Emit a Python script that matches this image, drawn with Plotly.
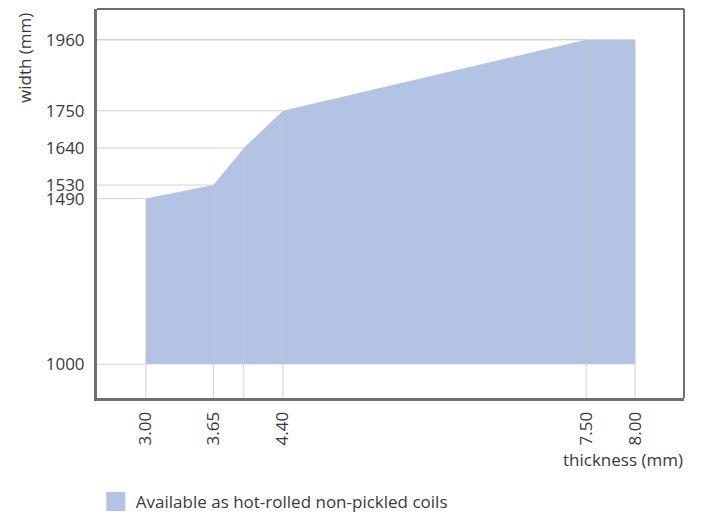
import plotly.graph_objects as go

# Data
thickness = [3.00, 3.69, 4.00, 4.40, 7.50, 8.00]   # x positions of boundary points
width_max = [1490, 1530, 1640, 1750, 1960, 1960]   # upper width boundary
width_min = 1000                                   # lower width boundary
x_tick_vals = [3.00, 3.69, 4.40, 7.50, 8.00]
x_tick_text = ["3.00", "3.65", "4.40", "7.50", "8.00"]
y_tick_vals = [1000, 1490, 1530, 1640, 1750, 1960]
legend_label = "Available as hot-rolled non-pickled coils"

FILL = "#b3c3e3"
AXIS = "#6f6f6f"
GRID = "rgba(200,200,200,0.8)"
TXT = "#3a3a3a"
FONT = "Open Sans"
FS = 17
X_RANGE = [2.5, 8.5]
Y_RANGE = [900, 2051]

fig = go.Figure()
fig.add_trace(go.Scatter(x=thickness, y=[width_min] * len(thickness), mode="lines",
                         line=dict(width=0, color=FILL), showlegend=False, hoverinfo="skip"))
fig.add_trace(go.Scatter(x=thickness, y=width_max, mode="lines", fill="tonexty",
                         fillcolor=FILL, line=dict(width=0, color=FILL), showlegend=False))
# legend entry
fig.add_trace(go.Scatter(x=[None], y=[None], mode="markers", name=legend_label,
                         marker=dict(symbol="square", size=19, color=FILL,
                                     line=dict(color=FILL, width=3))))

shapes = []
# drop lines: horizontal from y axis to each point, vertical from x axis to each point
for xv, yv in zip(thickness, width_max):
    shapes.append(dict(type="line", xref="x", yref="y", x0=X_RANGE[0], x1=xv, y0=yv, y1=yv,
                       line=dict(color=GRID, width=1), layer="above"))
    shapes.append(dict(type="line", xref="x", yref="y", x0=xv, x1=xv, y0=Y_RANGE[0], y1=yv,
                       line=dict(color=GRID, width=1), layer="above"))
shapes.append(dict(type="line", xref="x", yref="y", x0=X_RANGE[0], x1=thickness[0],
                   y0=width_min, y1=width_min, line=dict(color=GRID, width=1), layer="above"))
# top and right border of the frame
shapes.append(dict(type="line", xref="paper", yref="paper", x0=0, x1=1, y0=1, y1=1,
                   line=dict(color=AXIS, width=2)))
shapes.append(dict(type="line", xref="paper", yref="paper", x0=1, x1=1, y0=0, y1=1,
                   line=dict(color=AXIS, width=2)))

fig.update_layout(
    width=694, height=520,
    margin=dict(l=89, r=18, t=1, b=130, autoexpand=False),
    paper_bgcolor="white", plot_bgcolor="white",
    font=dict(family=FONT, size=FS, color=TXT),
    shapes=shapes,
    showlegend=True,
    legend=dict(orientation="h", x=-0.002, y=-0.267, xanchor="left", yanchor="middle",
                font=dict(family=FONT, size=FS, color=TXT), itemsizing="trace"),
    xaxis=dict(range=X_RANGE, showgrid=False, zeroline=False, tickmode="array",
               tickvals=x_tick_vals, ticktext=x_tick_text, tickangle=-90, automargin=False,
               ticks="", ticklabelstandoff=4, showline=True, linecolor=AXIS, linewidth=3,
               tickfont=dict(size=FS, color=TXT)),
    yaxis=dict(range=Y_RANGE, showgrid=False, zeroline=False, tickmode="array",
               tickvals=y_tick_vals, ticks="", ticklabelstandoff=6, showline=True,
               automargin=False,
               linecolor=AXIS, linewidth=3, tickfont=dict(size=FS, color=TXT)),
    annotations=[
        dict(text="width (mm)", xref="paper", yref="paper", x=-0.1227, y=0.995,
             xanchor="center", yanchor="top", textangle=-90, showarrow=False,
             font=dict(family=FONT, size=FS, color=TXT)),
        dict(text="thickness (mm)", xref="paper", yref="paper", x=1.0017, y=-0.159,
             xanchor="right", yanchor="middle", showarrow=False,
             font=dict(family=FONT, size=FS, color=TXT)),
    ],
)

fig.write_html("out.html")
